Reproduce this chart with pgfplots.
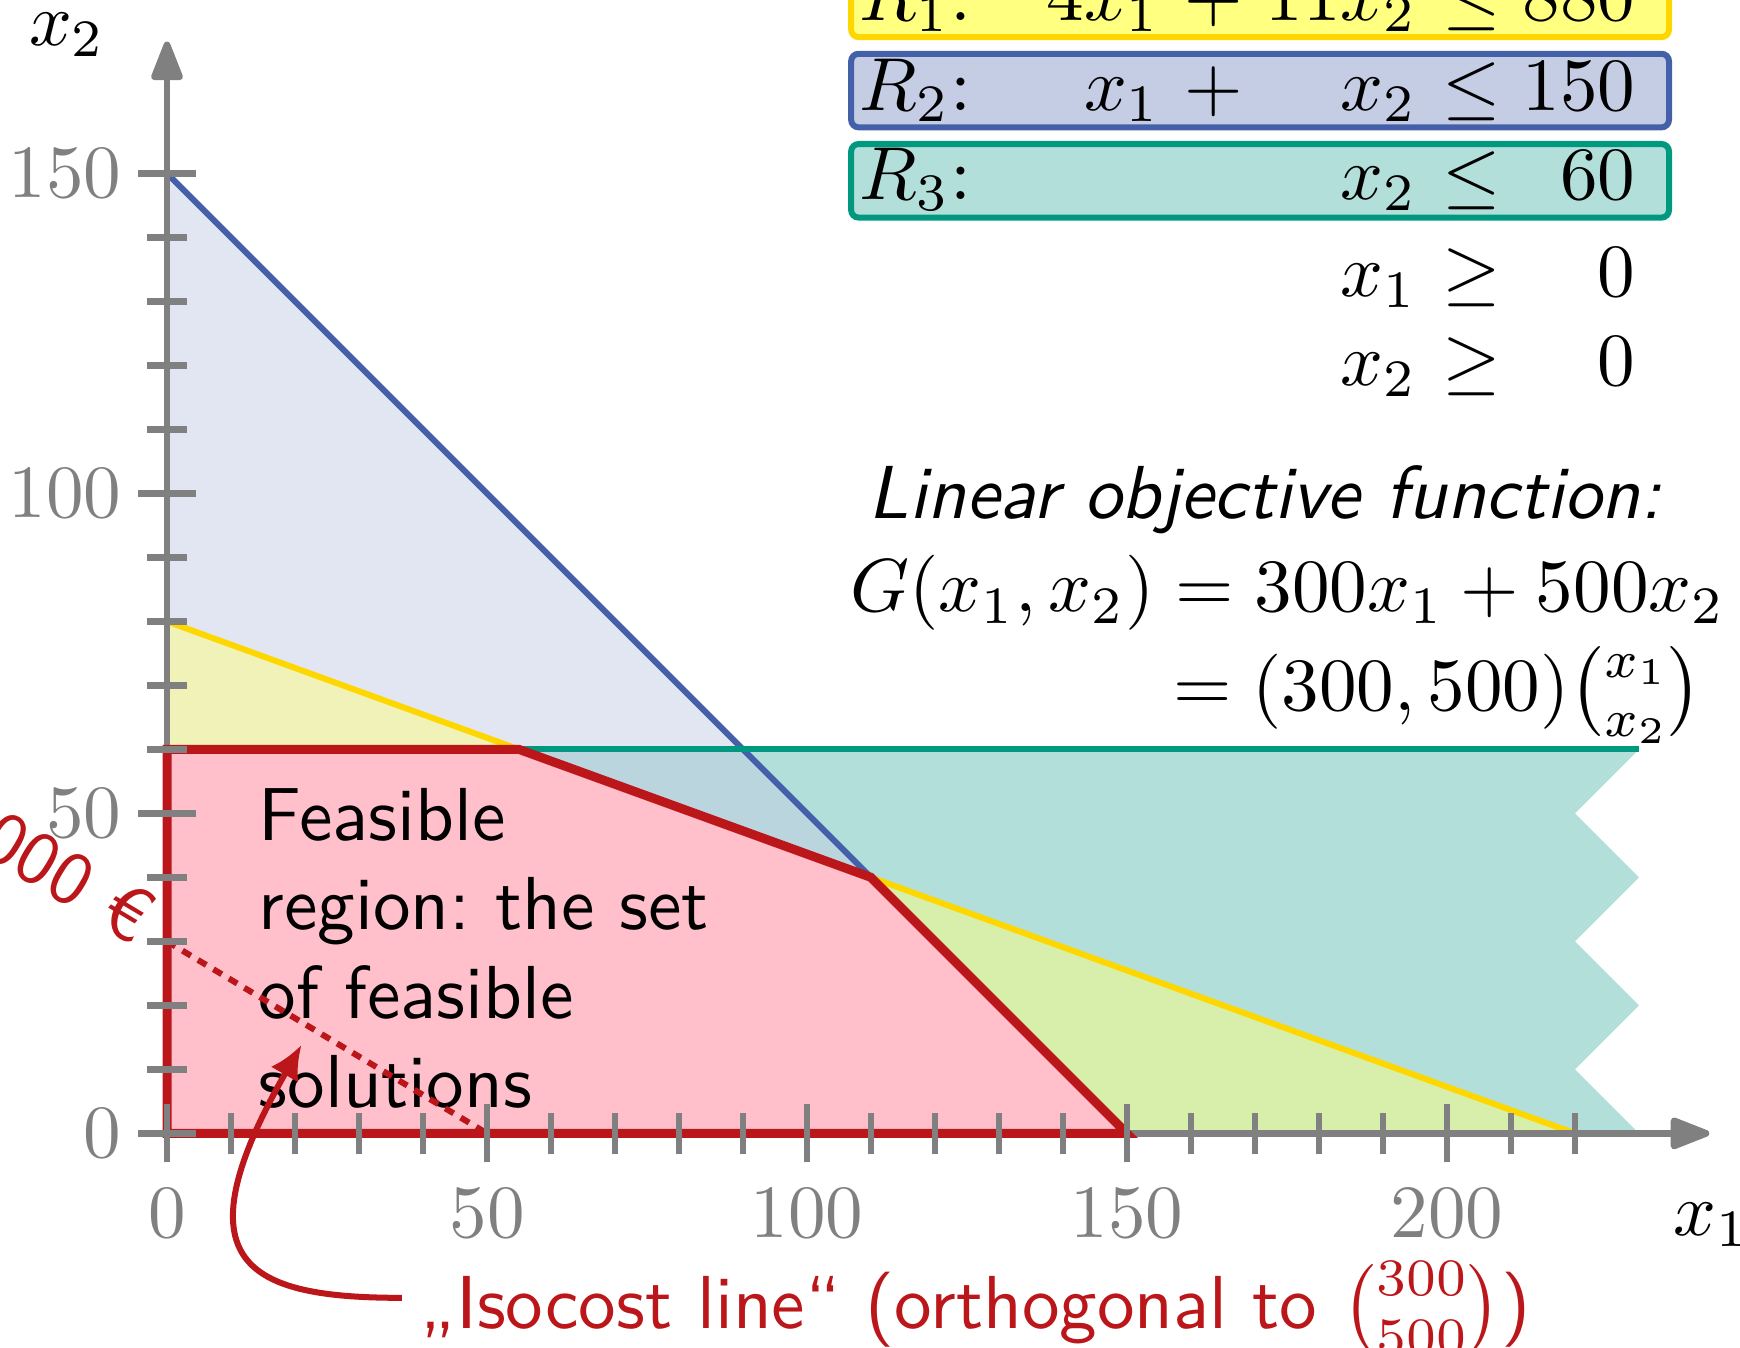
\documentclass[border=0pt]{standalone}
\usepackage{amsmath}
\usepackage{fontspec}
\usepackage{pgfplots}
\pgfplotsset{compat=1.18}
\usetikzlibrary{arrows.meta}
\definecolor{redline}{RGB}{187,23,26}
\definecolor{pinkfill}{RGB}{255,192,203}
\definecolor{blueline}{RGB}{68,96,168}
\definecolor{bluebox}{RGB}{197,205,229}
\definecolor{yellowline}{RGB}{255,215,0}
\definecolor{yellowbox}{RGB}{255,255,128}
\definecolor{tealline}{RGB}{0,153,128}
\definecolor{tealbox}{RGB}{178,223,218}
\definecolor{axisgray}{RGB}{128,128,128}
\tikzset{lab/.style={inner sep=0pt}}
\frenchspacing
\begin{document}
\begin{tikzpicture}
\begin{axis}[
  x=0.852pt, y=0.852pt,
  xmin=0, xmax=241, ymin=0, ymax=170.6,
  axis lines=left,
  axis line style={draw=none},
  axis on top,
  clip=false,
  xtick={0,50,100,150,200}, ytick={0,50,100,150},
  minor xtick={10,20,...,220}, minor ytick={10,20,...,140},
  tick align=center,
  major tick length=7.7pt, minor tick length=5.4pt,
  tick style={axisgray, line width=0.9pt},
  tick label style={axisgray},
  yticklabel style={xshift=1.3pt},
]
% constraint regions
\addplot[draw=none, fill=tealbox] coordinates {(0,0)(0,60)(230,60)(220,50)(230,40)(220,30)(230,20)(220,10)(230,0)} -- cycle;
\addplot[draw=none, fill=bluebox, fill opacity=0.5] coordinates {(0,0)(0,150)(150,0)} -- cycle;
\addplot[draw=none, fill=yellowbox, fill opacity=0.5] coordinates {(0,0)(0,80)(220,0)} -- cycle;
\addplot[blueline, line width=0.8pt] coordinates {(0,150)(150,0)};
\addplot[yellowline, line width=0.8pt] coordinates {(0,80)(220,0)};
\addplot[tealline, line width=0.8pt] coordinates {(0,60)(230,60)};
% axes lines
\draw[axisgray, line width=0.9pt, -{Triangle[length=6pt,width=4.4pt,round]}] (axis cs:0,0) -- (axis cs:241,0);
\draw[axisgray, line width=0.9pt, -{Triangle[length=6pt,width=4.4pt,round]}] (axis cs:0,0) -- (axis cs:0,170.6);
% feasible region
\addplot[fill=pinkfill, draw=redline, line width=1.2pt] coordinates {(0,0)(0,60)(55,60)(110,40)(150,0)} -- cycle;
% text in feasible region
\node[lab, anchor=base west, font=\sffamily] at (axis cs:14.1,45.8) {Feasible};
\node[lab, anchor=base west, font=\sffamily] at (axis cs:14.1,31.9) {region: the set};
\node[lab, anchor=base west, font=\sffamily] at (axis cs:14.1,18.0) {of feasible};
\node[lab, anchor=base west, font=\sffamily] at (axis cs:14.1,4.1) {solutions};
% isocost line
\addplot[redline, line width=0.8pt, dash pattern=on 1.3pt off 1.1pt] coordinates {(0,30)(50,0)};
\node[lab, anchor=mid east, font=\sffamily, text=redline, rotate=-30.96] at (axis cs:-3.6,31.4) {15\,000 €};
\draw[redline, line width=0.8pt, -{Latex[length=4.5pt,width=4.2pt]}] (axis cs:36.7,-25.7) .. controls (axis cs:12.6,-25.7) and (axis cs:1.4,-20.5) .. (axis cs:21,13.8);
\node[lab, anchor=base west, font=\sffamily, text=redline] at (axis cs:39.4,-30.5) {„Isocost line“ (orthogonal to $\binom{300}{500}$)};
% axis labels
\node[lab, anchor=base west] at (axis cs:-21.8,170.0) {$x_2$};
\node[lab, anchor=base west] at (axis cs:235.2,-15.9) {$x_1$};
% constraint boxes
\draw[draw=yellowline, fill=yellowbox, line width=0.8pt, rounded corners=1pt] (axis cs:106.9,171.3) rectangle (axis cs:234.7,182.8);
\draw[draw=blueline, fill=bluebox, line width=0.8pt, rounded corners=1pt] (axis cs:106.9,157.2) rectangle (axis cs:234.7,168.7);
\draw[draw=tealline, fill=tealbox, line width=0.8pt, rounded corners=1pt] (axis cs:106.9,143.1) rectangle (axis cs:234.7,154.6);
% row R1
\node[lab, anchor=base west] at (axis cs:108,173.9) {$R_1$};
\node[lab, anchor=base] at (axis cs:124.1,173.9) {$:$};
\node[lab, anchor=base east] at (axis cs:155.5,173.9) {$4x_1$};
\node[lab, anchor=base] at (axis cs:163.5,173.9) {$+$};
\node[lab, anchor=base east] at (axis cs:195.6,173.9) {$11x_2$};
\node[lab, anchor=base] at (axis cs:203.8,173.9) {$\leq$};
\node[lab, anchor=base east] at (axis cs:229.7,173.9) {$880$};
% row R2
\node[lab, anchor=base west] at (axis cs:108,159.9) {$R_2$};
\node[lab, anchor=base] at (axis cs:124.1,159.9) {$:$};
\node[lab, anchor=base east] at (axis cs:155.5,159.9) {$x_1$};
\node[lab, anchor=base] at (axis cs:163.5,159.9) {$+$};
\node[lab, anchor=base east] at (axis cs:195.6,159.9) {$x_2$};
\node[lab, anchor=base] at (axis cs:203.8,159.9) {$\leq$};
\node[lab, anchor=base east] at (axis cs:229.7,159.9) {$150$};
% row R3
\node[lab, anchor=base west] at (axis cs:108,145.9) {$R_3$};
\node[lab, anchor=base] at (axis cs:124.1,145.9) {$:$};
\node[lab, anchor=base east] at (axis cs:195.6,145.9) {$x_2$};
\node[lab, anchor=base] at (axis cs:203.8,145.9) {$\leq$};
\node[lab, anchor=base east] at (axis cs:229.7,145.9) {$60$};
% nonnegativity
\node[lab, anchor=base east] at (axis cs:195.6,130.8) {$x_1$};
\node[lab, anchor=base] at (axis cs:203.8,130.8) {$\geq$};
\node[lab, anchor=base east] at (axis cs:229.7,130.8) {$0$};
\node[lab, anchor=base east] at (axis cs:195.6,116.9) {$x_2$};
\node[lab, anchor=base] at (axis cs:203.8,116.9) {$\geq$};
\node[lab, anchor=base east] at (axis cs:229.7,116.9) {$0$};
% objective function
\node[lab, anchor=base, font=\sffamily\itshape] at (axis cs:171.6,96.1) {Linear objective function:};
\node[lab, anchor=base west] at (axis cs:106.6,81.5) {$G(x_1,x_2) = 300x_1 + 500x_2$};
\node[lab, anchor=base west] at (axis cs:157.0,66.1) {$= (300,500)\binom{x_1}{x_2}$};
% bounding box corners
\coordinate (bbsw) at (axis cs:-26.1,-33.4);
\coordinate (bbne) at (axis cs:245.8,177.1);
\end{axis}
\pgfresetboundingbox
\useasboundingbox (bbsw) rectangle (bbne);
\end{tikzpicture}
\end{document}
